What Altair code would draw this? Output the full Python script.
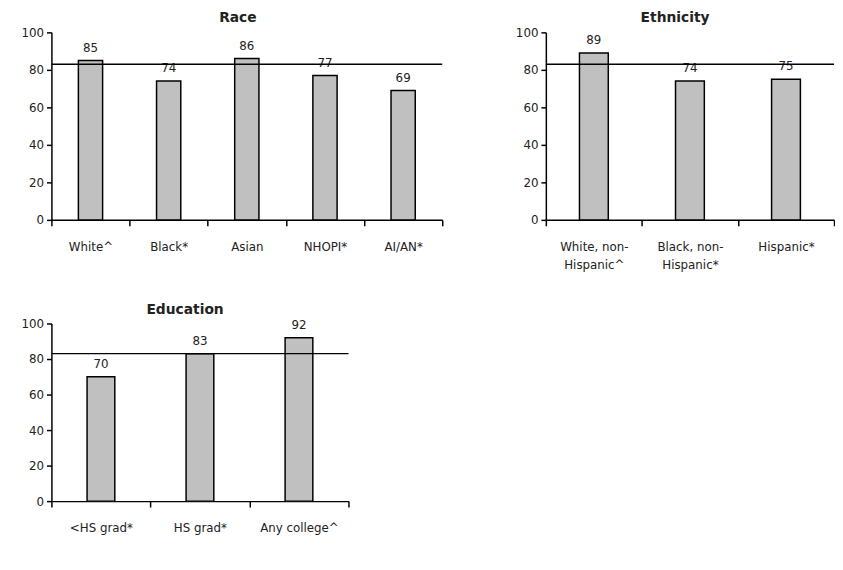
import altair as alt
import pandas as pd

race_cats = ["White^", "Black*", "Asian", "NHOPI*", "AI/AN*"]
race_vals = [85, 74, 86, 77, 69]
eth_cats = ["White, non-\nHispanic^", "Black, non-\nHispanic*", "Hispanic*"]
eth_vals = [89, 74, 75]
edu_cats = ["<HS grad*", "HS grad*", "Any college^"]
edu_vals = [70, 83, 92]
reference_value = 83
y_ticks = [0, 20, 40, 60, 80, 100]

FONT = "DejaVu Sans"
TEXT_COLOR = "#222222"


def panel(title, cats, vals, w, h, bar_frac, title_dx=0):
    df = pd.DataFrame({"cat": cats, "val": vals})
    x = alt.X(
        "cat:N",
        sort=cats,
        scale=alt.Scale(paddingInner=0, paddingOuter=0),
        axis=alt.Axis(
            title=None,
            labelAngle=0,
            tickBand="extent",
            tickSize=6,
            labelPadding=16,
            labelExpr="split(datum.label, '\\n')",
            labelLineHeight=18,
            labelOverlap=False,
        ),
    )
    y = alt.Y(
        "val:Q",
        scale=alt.Scale(domain=[0, 100], nice=False),
        axis=alt.Axis(values=y_ticks, title=None, grid=False, tickSize=5,
                      labelPadding=3, labelOverlap=False, labelFlush=False),
    )
    base = alt.Chart(df)
    bars = base.mark_bar(
        width=alt.RelativeBandSize(bar_frac),
        fill="#c0c0c0",
        stroke="black",
        strokeWidth=1.5,
    ).encode(x=x, y=y)
    text = base.mark_text(
        dy=-6, baseline="bottom", font=FONT, fontSize=12, color=TEXT_COLOR
    ).encode(x=x, y=y, text="val:Q")
    rule = alt.Chart(pd.DataFrame({"val": [reference_value]})).mark_rule(
        color="black", strokeWidth=1.3
    ).encode(y=y)
    return alt.layer(bars, text, rule).properties(
        width=w,
        height=h,
        title=alt.TitleParams(
            title, font=FONT, fontSize=14, fontWeight="bold", color=TEXT_COLOR,
            frame="bounds", anchor="middle", offset=1, dx=title_dx,
        ),
    )


race = panel("Race", race_cats, race_vals, 396, 190, 0.31, title_dx=6)
eth = panel("Ethnicity", eth_cats, eth_vals, 292, 190, 0.30)
edu = panel("Education", edu_cats, edu_vals, 301, 180, 0.28)

top = alt.hconcat(race, eth, spacing=73)
chart = alt.vconcat(top, edu, spacing=33).properties(
    padding={"left": 13, "top": 0, "right": 0, "bottom": 25}
).configure_view(stroke=None).configure_axis(
    domainColor="black",
    domainWidth=1.5,
    tickColor="black",
    tickWidth=1.5,
    labelFont=FONT,
    labelFontSize=12,
    labelColor=TEXT_COLOR,
)

chart.save("out.html", embed_options={"renderer": "svg", "actions": False})
